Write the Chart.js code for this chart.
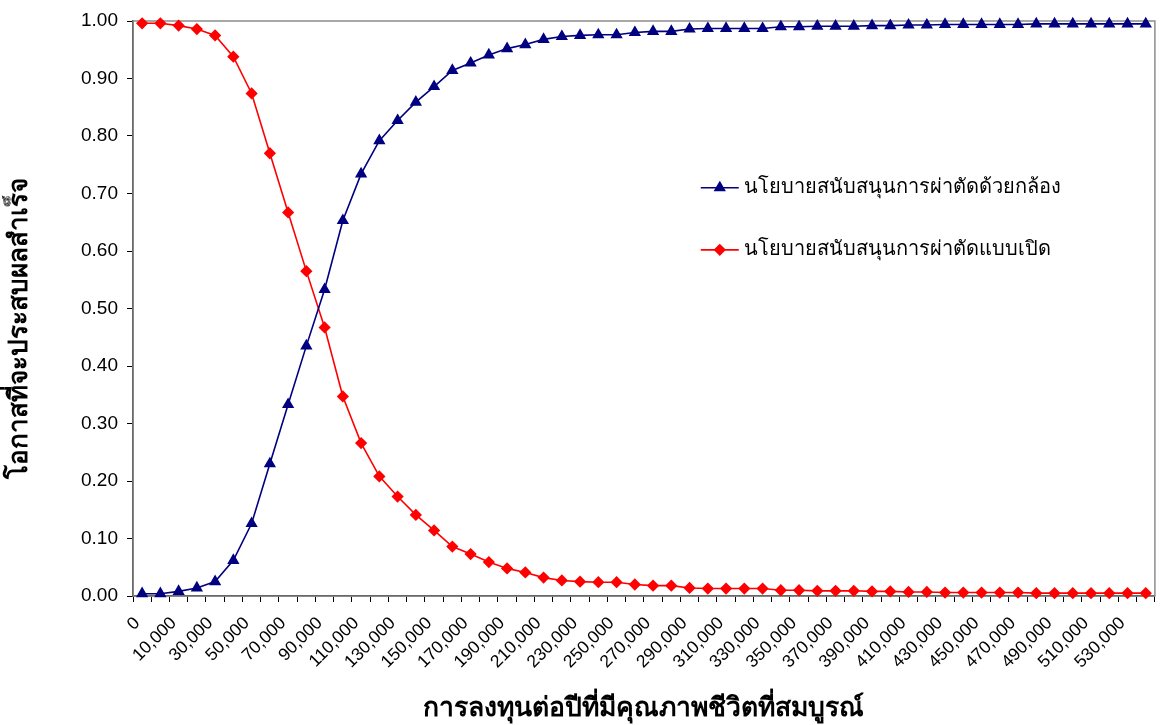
<!DOCTYPE html>
<html>
<head>
<meta charset="utf-8">
<script src="https://cdn.jsdelivr.net/npm/chart.js@4/dist/chart.umd.min.js"></script>
<style>
  html, body { margin: 0; padding: 0; background: #ffffff; }
  #wrap { width: 1162px; height: 725px; position: relative; }
</style>
</head>
<body>
<div id="wrap"><canvas id="c" width="1162" height="725"></canvas></div>
<script>
// Annual investment per quality-adjusted life year (baht)
const investment = [0, 5000, 10000, 20000, 30000, 40000, 50000, 60000, 70000, 80000,
  90000, 100000, 110000, 120000, 130000, 140000, 150000, 160000, 170000, 180000,
  190000, 200000, 210000, 220000, 230000, 240000, 250000, 260000, 270000, 280000,
  290000, 300000, 310000, 320000, 330000, 340000, 350000, 360000, 370000, 380000,
  390000, 400000, 410000, 420000, 430000, 440000, 450000, 460000, 470000, 480000,
  490000, 500000, 510000, 520000, 530000, 540000];

// Probability of being cost-effective: laparoscopic surgery policy
const laparoscopic = [0.004, 0.004, 0.008, 0.014, 0.025, 0.062, 0.126, 0.230, 0.333, 0.435,
  0.533, 0.653, 0.734, 0.792, 0.827, 0.859, 0.886, 0.914, 0.927, 0.941,
  0.952, 0.959, 0.968, 0.973, 0.975, 0.976, 0.976, 0.980, 0.982, 0.982,
  0.986, 0.987, 0.987, 0.987, 0.987, 0.990, 0.990, 0.991, 0.991, 0.991,
  0.992, 0.992, 0.993, 0.993, 0.994, 0.994, 0.994, 0.994, 0.994, 0.995,
  0.995, 0.995, 0.995, 0.995, 0.995, 0.995];

// Probability of being cost-effective: open surgery policy
const openSurgery = [0.996, 0.996, 0.992, 0.986, 0.975, 0.938, 0.874, 0.770, 0.667, 0.565,
  0.467, 0.347, 0.266, 0.208, 0.173, 0.141, 0.114, 0.086, 0.073, 0.059,
  0.048, 0.041, 0.032, 0.027, 0.025, 0.024, 0.024, 0.020, 0.018, 0.018,
  0.014, 0.013, 0.013, 0.013, 0.013, 0.010, 0.010, 0.009, 0.009, 0.009,
  0.008, 0.008, 0.007, 0.007, 0.006, 0.006, 0.006, 0.006, 0.006, 0.005,
  0.005, 0.005, 0.005, 0.005, 0.005, 0.005];

const seriesNames = ['นโยบายสนับสนุนการผ่าตัดด้วยกล้อง', 'นโยบายสนับสนุนการผ่าตัดแบบเปิด'];
const xTitle = 'การลงทุนต่อปีที่มีคุณภาพชีวิตที่สมบูรณ์';
const yTitle = 'โอกาสที่จะประสบผลสำเร็จ';

const categoryLabels = investment.map(v => v.toLocaleString('en-US'));

const FONT = '"Liberation Sans", Arial, Tahoma, sans-serif';

// Gray frame on the plot area (top and right edges show; axes cover the others)
const plotFrame = {
  id: 'plotFrame',
  beforeDatasetsDraw(chart) {
    const { ctx, chartArea: a } = chart;
    ctx.save();
    ctx.strokeStyle = '#8c8c8c';
    ctx.lineWidth = 1.5;
    ctx.strokeRect(a.left, a.top, a.right - a.left, a.bottom - a.top);
    ctx.restore();
  }
};

// Vertical value-axis title, placed a little below the middle of the plot
const sideTitle = {
  id: 'sideTitle',
  afterDraw(chart, args, opts) {
    const { ctx, chartArea: a } = chart;
    ctx.save();
    ctx.translate(opts.x, a.top + opts.y * a.height);
    ctx.rotate(-Math.PI / 2);
    ctx.fillStyle = '#000000';
    ctx.font = opts.font;
    ctx.textAlign = 'center';
    ctx.textBaseline = 'middle';
    ctx.fillText(opts.text, 0, 0);
    ctx.restore();
  }
};

// Legend drawn inside the plot area
const innerLegend = {
  id: 'innerLegend',
  afterDatasetsDraw(chart, args, opts) {
    const { ctx, chartArea: a } = chart;
    ctx.save();
    chart.data.datasets.forEach((ds, i) => {
      const p = opts.items[i];
      const x = a.left + p.x * a.width;
      const y = a.top + p.y * a.height;
      ctx.strokeStyle = ds.borderColor;
      ctx.lineWidth = ds.borderWidth;
      ctx.beginPath();
      ctx.moveTo(x, y);
      ctx.lineTo(x + opts.lineLength, y);
      ctx.stroke();
      ctx.fillStyle = ds.pointBackgroundColor;
      ctx.strokeStyle = ds.pointBorderColor;
      Chart.helpers.drawPoint(ctx, {
        pointStyle: ds.pointStyle,
        radius: ds.pointRadius,
        rotation: 0,
        borderWidth: 1
      }, x + opts.lineLength / 2, y);
      ctx.fillStyle = '#000000';
      ctx.font = opts.font;
      ctx.textBaseline = 'middle';
      ctx.textAlign = 'left';
      ctx.fillText(ds.label, x + opts.lineLength + 5, y);
    });
    ctx.restore();
  }
};

new Chart(document.getElementById('c'), {
  type: 'line',
  data: {
    labels: categoryLabels,
    datasets: [
      {
        label: seriesNames[0],
        data: laparoscopic,
        borderColor: '#000080',
        backgroundColor: '#000080',
        pointBackgroundColor: '#000080',
        pointBorderColor: '#000080',
        pointStyle: 'triangle',
        pointRadius: 5.5,
        borderWidth: 1.6,
        tension: 0,
        clip: false
      },
      {
        label: seriesNames[1],
        data: openSurgery,
        borderColor: '#ff0000',
        backgroundColor: '#ff0000',
        pointBackgroundColor: '#ff0000',
        pointBorderColor: '#ff0000',
        pointStyle: 'rectRot',
        pointRadius: 5,
        borderWidth: 1.6,
        tension: 0,
        clip: false
      }
    ]
  },
  options: {
    responsive: false,
    animation: false,
    events: [],
    layout: { padding: { top: 21, right: 3, left: 0, bottom: 0 } },
    plugins: {
      legend: { display: false },
      tooltip: { enabled: false },
      innerLegend: {
        items: [{ x: 0.5556, y: 0.290 }, { x: 0.5556, y: 0.398 }],
        lineLength: 38,
        font: '20px ' + FONT
      },
      sideTitle: {
        text: yTitle,
        x: 20,
        y: 0.534,
        font: 'bold 26px ' + FONT
      }
    },
    scales: {
      x: {
        type: 'category',
        offset: true,
        grid: {
          offset: true,
          drawOnChartArea: false,
          drawTicks: true,
          tickLength: 6,
          color: '#000000',
          lineWidth: 1
        },
        border: { display: true, color: '#000000', width: 1.5 },
        ticks: {
          autoSkip: false,
          maxRotation: 45,
          minRotation: 45,
          padding: 11,
          labelOffset: -5,
          color: '#000000',
          font: { family: FONT, size: 17.5 },
          callback: function (value, index) {
            return index % 2 === 0 ? this.getLabelForValue(value) : '';
          }
        },
        title: {
          display: true,
          text: xTitle,
          color: '#000000',
          font: { family: FONT, size: 26.5, weight: 'bold' },
          padding: { top: 0, bottom: 0 }
        },
        afterFit(scale) {
          scale.height = 129;
          scale.paddingLeft = 0;
          scale.paddingRight = 0;
        }
      },
      y: {
        min: 0,
        max: 1,
        grid: {
          drawOnChartArea: false,
          drawTicks: true,
          tickLength: 6,
          color: '#000000'
        },
        border: { display: true, color: '#000000', width: 1.5 },
        ticks: {
          stepSize: 0.1,
          padding: 9,
          color: '#000000',
          font: { family: FONT, size: 19 },
          callback: v => Number(v).toFixed(2)
        },
        title: { display: false },
        afterFit(scale) {
          scale.width = 133;
          scale.paddingTop = 0;
          scale.paddingBottom = 0;
        }
      }
    }
  },
  plugins: [plotFrame, innerLegend, sideTitle]
});
</script>
</body>
</html>
